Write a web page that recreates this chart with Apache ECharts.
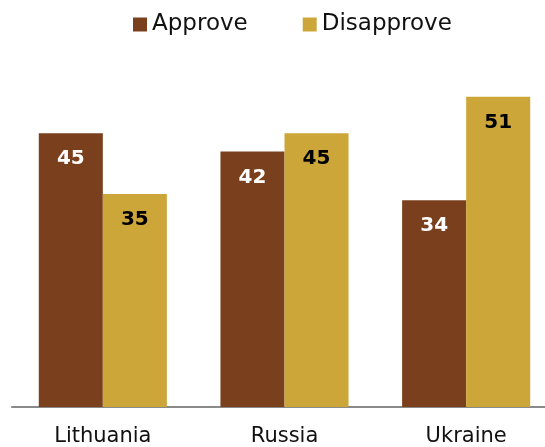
<!DOCTYPE html>
<html>
<head>
<meta charset="utf-8">
<script src="https://cdn.jsdelivr.net/npm/echarts@6/dist/echarts.min.js"></script>
<style>
  html, body { margin: 0; padding: 0; background: #fff; }
  #chart { width: 545px; height: 447px; }
</style>
</head>
<body>
<div id="chart"></div>
<script>
// countries and percentages
var countries = ['Lithuania', 'Russia', 'Ukraine'];
var approve = [45, 42, 34];
var disapprove = [35, 45, 51];

var brown = '#7A401D';
var gold = '#CDA63A';

var myChart = echarts.init(document.getElementById('chart'));

var option = {
    animation: false,
    textStyle: { fontFamily: 'DejaVu Sans' },
    legend: {
        top: 13,
        left: 133,
        padding: 0,
        itemWidth: 14,
        itemHeight: 14,
        itemGap: 55,
        icon: 'rect',
        textStyle: { fontSize: 23, color: '#111', fontFamily: 'DejaVu Sans' },
        data: ['Approve', 'Disapprove']
    },
    grid: { left: 12, width: 545, top: 42, bottom: 40, outerBoundsMode: 'none' },
    xAxis: {
        type: 'category',
        data: countries,
        axisLine: { lineStyle: { color: '#8a8a8a', width: 2 } },
        axisTick: { show: false },
        axisLabel: { fontSize: 21, color: '#111', margin: 19 }
    },
    yAxis: {
        type: 'value',
        min: 0,
        max: 60,
        show: false,
        splitLine: { show: false }
    },
    series: [
        {
            name: 'Approve',
            type: 'bar',
            data: approve,
            barGap: '0%',
            barCategoryGap: '29.5%',
            itemStyle: { color: brown },
            label: {
                show: true,
                position: 'insideTop',
                distance: 16,
                color: '#fff',
                fontWeight: 'bold',
                fontSize: 20
            }
        },
        {
            name: 'Disapprove',
            type: 'bar',
            data: disapprove,
            itemStyle: { color: gold },
            label: {
                show: true,
                position: 'insideTop',
                distance: 16,
                color: '#000',
                fontWeight: 'bold',
                fontSize: 20
            }
        }
    ]
};

myChart.setOption(option);
</script>
</body>
</html>
